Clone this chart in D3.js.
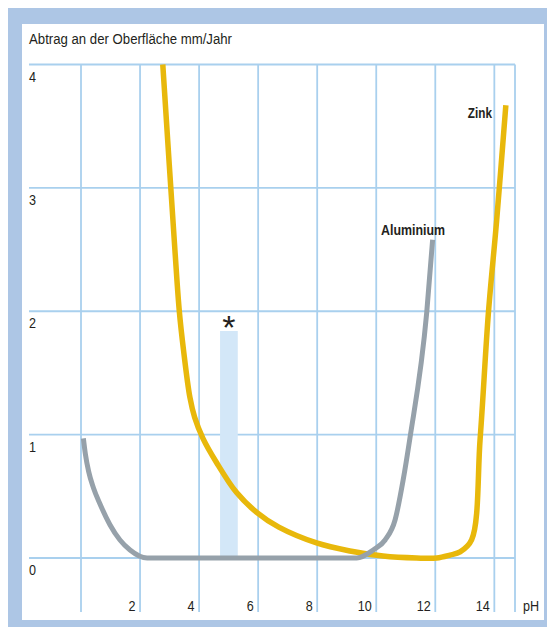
<!DOCTYPE html>
<html><head><meta charset="utf-8">
<script src="https://cdn.jsdelivr.net/npm/d3@7"></script>
<style>body{margin:0;background:#fff}svg{display:block}</style>
</head><body>
<script>
// ---- data ----
const xTickValues = [2, 4, 6, 8, 10, 12, 14];
const xGridValues = [0, 2, 4, 6, 8, 10, 12, 14, 14.7];
const yTickValues = [0, 1, 2, 3, 4];
const aluminiumPH  = [0.08, 0.15, 0.26, 0.42, 0.64, 0.98, 1.32, 1.66, 2.24, 4, 6, 8, 9.34, 9.9, 10.3, 10.64, 10.91, 11.14, 11.71, 11.91];
const aluminiumVal = [0.97, 0.84, 0.70, 0.57, 0.44, 0.27, 0.146, 0.065, 0.0, 0.0, 0.0, 0.0, 0.0, 0.065, 0.146, 0.31, 0.63, 0.97, 1.99, 2.58];
const zinkPH  = [2.77, 3.18, 3.33, 3.47, 3.69, 3.85, 4.13, 4.60, 5.27, 5.95, 6.70, 7.98, 9.11, 10.23, 11.37, 12.05, 12.5, 12.84, 13.23, 13.52, 13.8, 14.08, 14.39];
const zinkVal = [4.0, 2.50, 2.0, 1.69, 1.30, 1.14, 0.97, 0.77, 0.53, 0.37, 0.25, 0.122, 0.057, 0.016, 0.0, 0.0, 0.024, 0.049, 0.146, 0.97, 1.99, 2.74, 3.67];
const starBarPH = [5.01];
const starBarVal = [1.84];
const starBarWidth = 0.6;
const title = "Abtrag an der Oberfläche mm/Jahr";
const seriesLabels = ["Aluminium", "Zink"];

// ---- layout ----
const W = 547, H = 627;
const font = "'Liberation Sans',Arial,sans-serif";
const SX = 0.84;
const ink = "#231f20";
const svg = d3.select("body").append("svg").attr("width", W).attr("height", H);

svg.append("rect").attr("x", 8).attr("y", 8).attr("width", W - 8).attr("height", H - 8).attr("fill", "#adc6e5");
svg.append("rect").attr("x", 22).attr("y", 24).attr("width", 522).attr("height", 596).attr("fill", "#fff");

const x = d3.scaleLinear().domain([0, 14.7]).range([81, 515]);
const y = d3.scaleLinear().domain([0, 4]).range([558, 64.5]);

const grid = "#a9d0ee";
svg.append("g").selectAll("line").data(yTickValues).join("line")
  .attr("x1", 29).attr("x2", x(14.7)).attr("y1", d => y(d)).attr("y2", d => y(d))
  .attr("stroke", grid).attr("stroke-width", 1.8);
svg.append("g").selectAll("line").data(xGridValues).join("line")
  .attr("x1", d => x(d)).attr("x2", d => x(d)).attr("y1", y(4)).attr("y2", 612)
  .attr("stroke", grid).attr("stroke-width", 1.8);

// bar with asterisk
svg.append("g").selectAll("rect").data(starBarPH).join("rect")
  .attr("x", d => x(d - starBarWidth / 2))
  .attr("width", d => x(d + starBarWidth / 2) - x(d - starBarWidth / 2))
  .attr("y", (d, i) => y(starBarVal[i]))
  .attr("height", (d, i) => y(0) - y(starBarVal[i]))
  .attr("fill", "#d3e7f8");
svg.append("g").selectAll("text").data(starBarPH).join("text")
  .attr("x", d => x(d)).attr("y", (d, i) => y(starBarVal[i]) + 8)
  .attr("text-anchor", "middle").attr("font-family", font)
  .attr("font-size", 34).attr("fill", ink).text("*");

const zinkLine = d3.line().x(d => x(d[0])).y(d => y(d[1])).curve(d3.curveCatmullRom.alpha(0.5));
const aluLine = d3.line().x(d => x(d[0])).y(d => y(d[1])).curve(d3.curveMonotoneX);
const zinkData = zinkPH.map((p, i) => [p, zinkVal[i]]);
const aluData = aluminiumPH.map((p, i) => [p, aluminiumVal[i]]);

svg.append("path").datum(zinkData).attr("d", zinkLine).attr("fill", "none")
  .attr("stroke", "#e8b80b").attr("stroke-width", 5.5).attr("stroke-linejoin", "round");
svg.append("path").datum(aluData).attr("d", aluLine).attr("fill", "none")
  .attr("stroke", "#96a1aa").attr("stroke-width", 5).attr("stroke-linejoin", "round");

function label(px, py, str, opts = {}) {
  const t = svg.append("text")
    .attr("transform", `translate(${px},${py}) scale(${SX},1)`)
    .attr("font-family", font).attr("font-size", opts.size || 15)
    .attr("font-weight", opts.weight || "normal")
    .attr("text-anchor", opts.anchor || "start")
    .attr("fill", ink).text(str);
  if (opts.len) t.attr("textLength", opts.len / SX).attr("lengthAdjust", "spacingAndGlyphs");
  return t;
}

const axX = d3.axisBottom(x).tickValues(xTickValues).tickSize(0).tickFormat(d3.format("d"));
const gx = svg.append("g").call(axX);
gx.select(".domain").remove();
gx.selectAll("text").attr("font-family", font).attr("font-size", 15).attr("fill", ink)
  .attr("text-anchor", "end").attr("dy", 0).attr("y", 0).attr("x", 0)
  .attr("transform", `translate(-5,611) scale(${SX},1)`);

yTickValues.forEach(d => label(29, y(d) + 17, String(d)));
label(523, 611, "pH");
label(29, 44, title, { len: 203 });
label(381, 235, seriesLabels[0], { weight: "bold", size: 14, len: 64 });
label(492, 118, seriesLabels[1], { weight: "bold", size: 14, anchor: "end" });
</script>
</body></html>
